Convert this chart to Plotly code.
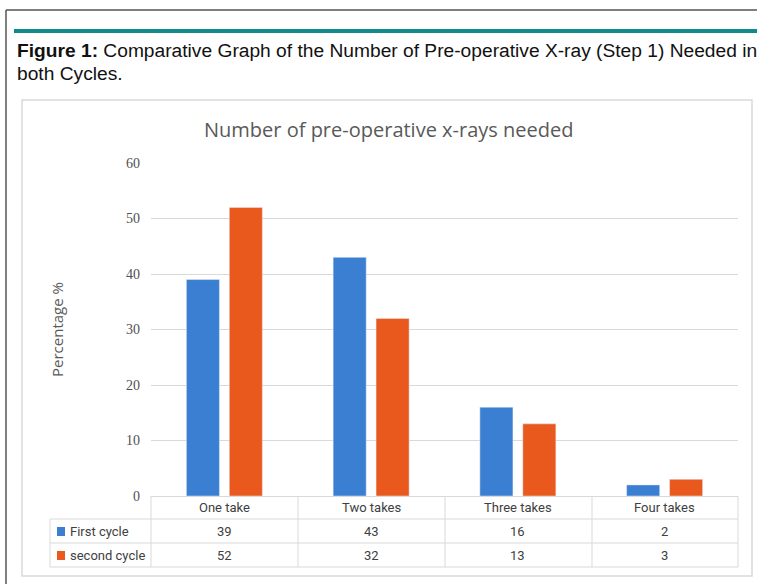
import plotly.graph_objects as go

categories = ["One take", "Two takes", "Three takes", "Four takes"]
first_cycle = [39, 43, 16, 2]
second_cycle = [52, 32, 13, 3]
series_names = ["First cycle", "second cycle"]
y_ticks = [0, 10, 20, 30, 40, 50, 60]

BLUE = "#3a7fd2"
ORANGE = "#e9591e"
GRID = "#d9d9d9"
TXT = "#404040"

W, H = 757, 584
L, R, T, B = 151, 738, 163, 496  # plot area in pixels


def px(x):
    return (x - L) / (R - L)


def py(y):
    return (B - y) / (B - T)


fig = go.Figure()
fig.add_trace(go.Bar(x=categories, y=first_cycle, name=series_names[0], marker_color=BLUE))
fig.add_trace(go.Bar(x=categories, y=second_cycle, name=series_names[1], marker_color=ORANGE))

shapes = []
# outer page frame
shapes.append(dict(type="line", xref="paper", yref="paper", x0=px(6), x1=px(770), y0=py(10), y1=py(10),
                   line=dict(color="#555555", width=1.5)))
shapes.append(dict(type="line", xref="paper", yref="paper", x0=px(6), x1=px(6), y0=py(10), y1=py(600),
                   line=dict(color="#555555", width=1.5)))
# teal band
shapes.append(dict(type="rect", xref="paper", yref="paper", x0=px(14), x1=px(770), y0=py(29), y1=py(33),
                   fillcolor="#138a8a", line=dict(width=0)))
# chart frame
shapes.append(dict(type="rect", xref="paper", yref="paper", x0=px(22), x1=px(752), y0=py(100), y1=py(576),
                   line=dict(color=GRID, width=1.5)))
# data table lines
tl = dict(color=GRID, width=1)
for yy in [519, 543, 567]:
    shapes.append(dict(type="line", xref="paper", yref="paper", x0=px(50), x1=px(738), y0=py(yy), y1=py(yy), line=tl))
for xx in [151, 298, 445, 592, 738]:
    shapes.append(dict(type="line", xref="paper", yref="paper", x0=px(xx), x1=px(xx), y0=py(496), y1=py(567), line=tl))
shapes.append(dict(type="line", xref="paper", yref="paper", x0=px(50), x1=px(50), y0=py(519), y1=py(567), line=tl))
# legend keys in table
shapes.append(dict(type="rect", xref="paper", yref="paper", x0=px(57), x1=px(65), y0=py(527), y1=py(536),
                   fillcolor=BLUE, line=dict(width=0)))
shapes.append(dict(type="rect", xref="paper", yref="paper", x0=px(57), x1=px(65), y0=py(551), y1=py(560),
                   fillcolor=ORANGE, line=dict(width=0)))

TF = "Liberation Sans Narrow, Roboto, sans-serif"
CAP = dict(family="Liberation Sans, Arial, sans-serif", size=19.2, color="#111111")
ann = []
ann.append(dict(xref="paper", yref="paper", x=px(15), y=py(50), xanchor="left", yanchor="middle", align="left",
                showarrow=False,
                text="<b>Figure 1:</b> Comparative Graph of the Number of Pre-operative X-ray (Step 1) Needed in",
                font=CAP))
ann.append(dict(xref="paper", yref="paper", x=px(15), y=py(73), xanchor="left", yanchor="middle", align="left",
                showarrow=False, text="both Cycles.", font=CAP))
ann.append(dict(xref="paper", yref="paper", x=px(388), y=py(130), xanchor="center", yanchor="middle",
                showarrow=False, text="Number of pre-operative x-rays needed",
                font=dict(family="Open Sans, sans-serif", size=20, color="#595959")))
ann.append(dict(xref="paper", yref="paper", x=px(57), y=py(329), xanchor="center", yanchor="middle",
                showarrow=False, textangle=-90, text="Percentage %",
                font=dict(family="Open Sans, sans-serif", size=15, color="#595959")))
for c in categories:
    ann.append(dict(xref="x", yref="paper", x=c, y=py(507.5), xanchor="center", yanchor="middle",
                    showarrow=False, text=c, font=dict(family=TF, size=13, color=TXT)))
for name, yy in zip(series_names, [531, 555]):
    ann.append(dict(xref="paper", yref="paper", x=px(68), y=py(yy), xanchor="left", yanchor="middle",
                    showarrow=False, text=name, font=dict(family=TF, size=13, color=TXT)))
for vals, yy in zip([first_cycle, second_cycle], [531, 555]):
    for c, v in zip(categories, vals):
        ann.append(dict(xref="x", yref="paper", x=c, y=py(yy), xanchor="center", yanchor="middle",
                        showarrow=False, text=str(v), font=dict(family=TF, size=13, color=TXT)))

fig.update_layout(
    width=W, height=H,
    margin=dict(l=L, r=W - R, t=T, b=H - B),
    paper_bgcolor="white", plot_bgcolor="white",
    barmode="group", bargap=0.415, bargroupgap=0.23,
    showlegend=False,
    shapes=shapes, annotations=ann,
    xaxis=dict(showline=True, linecolor=GRID, linewidth=1, ticks="", showgrid=False,
               showticklabels=False),
    yaxis=dict(range=[0, 60], tickvals=y_ticks, showgrid=True, gridcolor=GRID, gridwidth=1,
               zeroline=False, ticks="", ticklabelstandoff=10,
               tickfont=dict(family="Liberation Serif, serif", size=14, color="#505050")),
)
fig.write_html("out.html", config={"displayModeBar": False},
               post_script="document.body.style.margin='0px';document.body.style.overflow='hidden';")
